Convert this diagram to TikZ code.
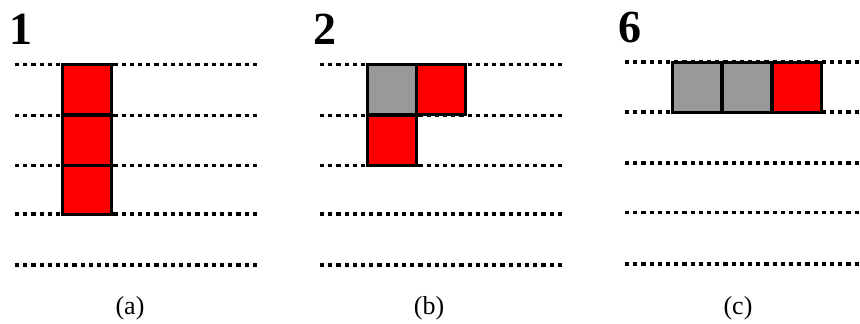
\documentclass[tikz,border=0pt]{standalone}
\usepackage{fontspec}
\setmainfont{Liberation Serif}
\definecolor{cellred}{RGB}{255,0,0}
\definecolor{cellgray}{RGB}{153,153,153}
\begin{document}
\begin{tikzpicture}[x=1pt,y=-1pt,
  track/.style={line width=3.5pt,dash pattern=on 4.2pt off 4pt},
  cell/.style={draw=black,line width=3pt,minimum width=49pt,minimum height=50pt,inner sep=0pt,outer sep=0pt,anchor=north west},
  redcell/.style={cell,fill=cellred},
  graycell/.style={cell,fill=cellgray},
  bignum/.style={font=\fontsize{46}{46}\selectfont\bfseries,anchor=base west,inner sep=0pt},
  caption/.style={font=\fontsize{26}{26}\selectfont,anchor=base,inner sep=0pt}]
\useasboundingbox (0,0) rectangle (860,324);
% panel (a)
\foreach \y in {64.5,115.5,165.5,214,265} \draw[track] (15,\y) -- (258,\y);
\node[redcell] (a1) at (62,64.5) {};
\node[redcell] (a2) at (62,115.5) {};
\node[redcell,minimum height=48.5pt] (a3) at (62,165.5) {};
\node[bignum] (n1) at (9,44) {1};
\node[caption] (ca) at (130,314) {(a)};
% panel (b)
\foreach \y in {64.5,115.5,165.5,214,265} \draw[track] (320,\y) -- (563,\y);
\node[graycell] (b1) at (367,64.5) {};
\node[redcell] (b2) at (416,64.5) {};
\node[redcell] (b3) at (367,115.5) {};
\node[bignum] (n2) at (313,44) {2};
\node[caption] (cb) at (429,314) {(b)};
% panel (c)
\foreach \y in {62,112,163,212.5,264} \draw[track] (625,\y) -- (862,\y);
\node[graycell] (c1) at (672,62) {};
\node[graycell] (c2) at (722,62) {};
\node[redcell] (c3) at (772,62) {};
\node[bignum] (n6) at (618,42) {6};
\node[caption] (cc) at (738,314) {(c)};
\end{tikzpicture}
\end{document}
